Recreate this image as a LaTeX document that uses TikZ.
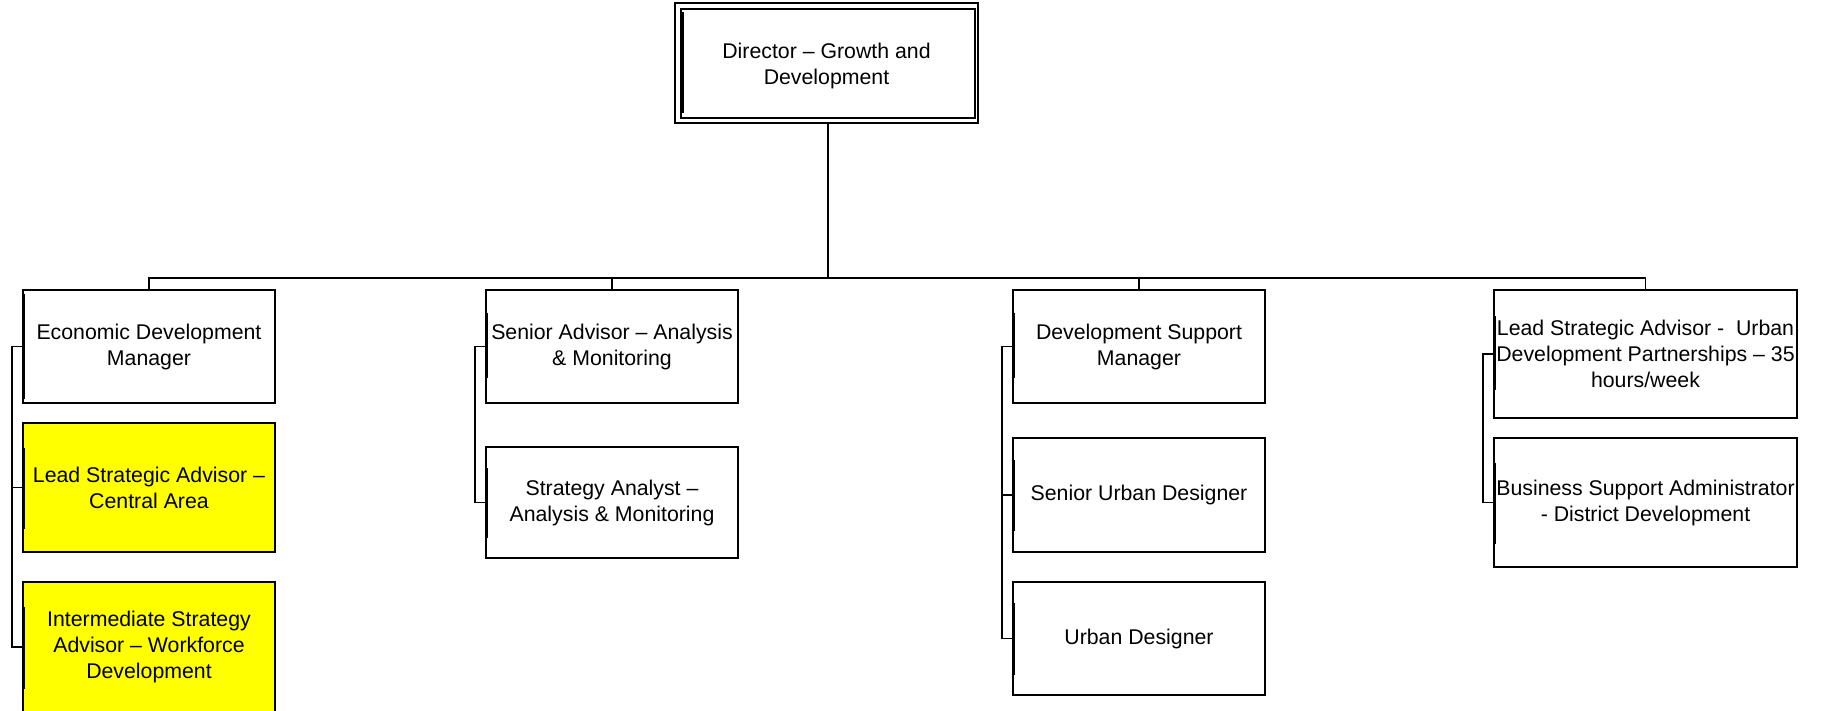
\documentclass[tikz,border=0pt]{standalone}
\usepackage{fontspec}
\setmainfont{Liberation Sans}
\usetikzlibrary{calc}
\definecolor{hiyellow}{RGB}{255,255,0}
\begin{document}
\begin{tikzpicture}[x=1pt,y=-1pt,
  box/.style={draw, line width=1.3pt, fill=white, inner sep=0pt, outer sep=0pt, align=center,
    font=\fontsize{21.3}{26}\selectfont, minimum width=252pt},
  wide/.style={minimum width=303pt},
  yel/.style={fill=hiyellow},
  link/.style={line width=1.3pt},
  side/.style={line width=1.1pt},
  trunk/.style={line width=2.3pt},
  ledge/.style={line width=2.4pt, line cap=butt}]
\useasboundingbox (0,0) rectangle (1821,710);
\clip (0,0) rectangle (1821,710);

% director
\node[box, minimum width=303pt, minimum height=120pt] (dir) at (826.5,63) {\rule{0pt}{22pt}Director -- Growth and\\Development};
\draw[line width=1.3pt] ([shift={(6,6)}]dir.north west) rectangle ([shift={(-3,-5)}]dir.south east);
\draw[ledge] ([shift={(7.5,9)}]dir.north west) -- ([shift={(7.5,-10)}]dir.south west);

% column 1
\node[box, minimum height=113pt] (edm) at (149,346.5) {Economic Development\\Manager};
\node[box, yel, minimum height=129pt] (lsa) at (149,487.5) {Lead Strategic Advisor --\\Central Area};
\node[box, yel, minimum height=130pt] (isa) at (149,647) {Intermediate Strategy\\Advisor -- Workforce\\Development};
% column 2
\node[box, minimum height=113pt] (sa) at (612,346.5) {Senior Advisor -- Analysis\\\& Monitoring};
\node[box, minimum height=111pt] (sta) at (612,502.5) {Strategy Analyst --\\Analysis \& Monitoring};
% column 3
\node[box, minimum height=113pt] (dsm) at (1139,346.5) {Development Support\\Manager};
\node[box, minimum height=114pt] (sud) at (1139,495) {Senior Urban Designer};
\node[box, minimum height=113pt] (ud) at (1139,638.5) {Urban Designer};
% column 4
\node[box, wide, minimum height=128pt] (lsau) at (1645.5,354) {Lead Strategic Advisor - \ Urban\\Development Partnerships -- 35\\hours/week};
\node[box, wide, minimum height=129pt] (bsa) at (1645.5,502.5) {Business Support Administrator\\- District Development};

% thick left edges
\draw[ledge] ([shift={(0.8,4)}]edm.north west) -- ([shift={(0.8,-4)}]edm.south west);
\foreach \n in {lsa,isa,sta,sud,ud,bsa}{
  \draw[ledge] ($(\n.north west)!0.19!(\n.south west)+(0.8,0)$) -- ($(\n.north west)!0.82!(\n.south west)+(0.8,0)$);
}
\foreach \n in {sa,dsm,lsau}{
  \draw[ledge] ($(\n.north west)!0.2!(\n.south west)+(0.8,0)$) -- ($(\n.north west)!0.78!(\n.south west)+(0.8,0)$);
}

% trunk and bus
\coordinate (bus) at (828,278);
\draw[trunk] (dir.south -| bus) -- (bus);
\draw[link] (edm.north) |- (bus);
\draw[link] (sa.north) |- (bus);
\draw[link] (dsm.north) |- (bus);
\draw[link] (lsau.north) |- (bus);

% side connectors
\draw[side] (edm.west) -- ++(-11,0) |- (isa.west);
\draw[side] (lsa.west) -- ++(-11,0);
\draw[side] (sa.west) -- ++(-11,0) |- (sta.west);
\draw[side] (dsm.west) -- ++(-11,0) |- (ud.west);
\draw[side] (sud.west) -- ++(-11,0);
\draw[side] (lsau.west) -- ++(-11,0) |- (bsa.west);
\end{tikzpicture}
\end{document}
